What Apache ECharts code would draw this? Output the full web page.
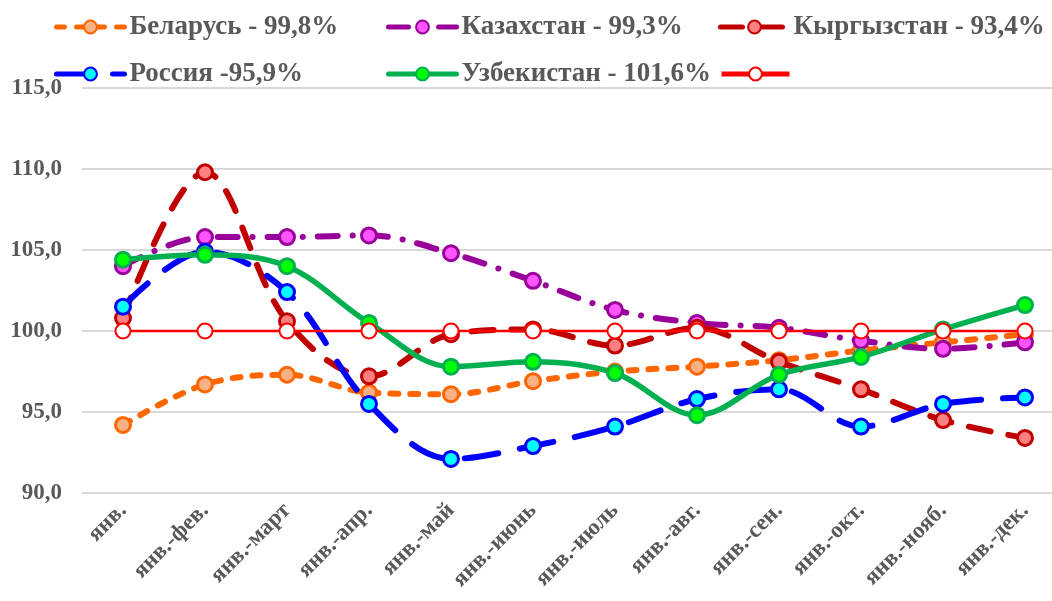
<!DOCTYPE html>
<html>
<head>
<meta charset="utf-8">
<script src="https://cdn.jsdelivr.net/npm/echarts@6/dist/echarts.min.js"></script>
<style>
html,body{margin:0;padding:0;background:#fff;}
#main{width:1052px;height:601px;}
</style>
</head>
<body>
<div id="main"></div>
<script>
var months = ['янв.', 'янв.-фев.', 'янв.-март', 'янв.-апр.', 'янв.-май', 'янв.-июнь', 'янв.-июль', 'янв.-авг.', 'янв.-сен.', 'янв.-окт.', 'янв.-нояб.', 'янв.-дек.'];
var belarus = [94.2, 96.7, 97.3, 96.2, 96.1, 96.9, 97.5, 97.8, 98.2, 98.8, 99.3, 99.8];
var kazakhstan = [104.0, 105.8, 105.8, 105.9, 104.8, 103.1, 101.3, 100.5, 100.2, 99.4, 98.9, 99.3];
var kyrgyzstan = [100.8, 109.8, 100.6, 97.2, 99.8, 100.1, 99.1, 100.2, 98.1, 96.4, 94.5, 93.4];
var russia = [101.5, 104.9, 102.4, 95.5, 92.1, 92.9, 94.1, 95.8, 96.4, 94.1, 95.5, 95.9];
var uzbekistan = [104.4, 104.7, 104.0, 100.5, 97.8, 98.1, 97.4, 94.8, 97.3, 98.4, 100.1, 101.6];
var base = [100, 100, 100, 100, 100, 100, 100, 100, 100, 100, 100, 100];
var names = ['Беларусь - 99,8%', 'Казахстан - 99,3%', 'Кыргызстан - 93,4%', 'Россия -95,9%', 'Узбекистан - 101,6%', ' '];

var chart = echarts.init(document.getElementById('main'));
var font = 'Liberation Serif';
var grey = '#595959';

function legendAt(name, left, top) {
    return {
        data: [name],
        left: left,
        top: top,
        padding: 0,
        itemWidth: 68,
        itemHeight: 16,
        lineStyle: { width: 5 },
        textStyle: { fontFamily: font, fontWeight: 'bold', fontSize: 27, color: grey, lineHeight: 30 }
    };
}

function line(name, data, color, fill, dash, width) {
    return {
        name: name,
        type: 'line',
        smooth: 0.35,
        data: data,
        symbol: 'circle',
        symbolSize: 15,
        lineStyle: { color: color, width: width, type: dash, cap: 'round' },
        itemStyle: { color: fill, borderColor: color, borderWidth: 3 }
    };
}

var option = {
    backgroundColor: '#ffffff',
    animation: false,
    legend: [
        legendAt(names[0], 54, 12),
        legendAt(names[1], 386, 12),
        legendAt(names[2], 718, 12),
        legendAt(names[3], 54, 59),
        legendAt(names[4], 386, 59),
        legendAt(names[5], 719, 59)
    ],
    grid: {
        left: 82,
        width: 984,
        top: 88,
        bottom: 108,
        outerBoundsMode: 'none'
    },
    xAxis: {
        type: 'category',
        data: months,
        axisLine: { show: false },
        axisTick: { show: false },
        axisLabel: {
            rotate: 45,
            interval: 0,
            margin: 14,
            fontFamily: font,
            fontWeight: 'bold',
            fontSize: 23,
            color: grey
        }
    },
    yAxis: {
        type: 'value',
        min: 90,
        max: 115,
        interval: 5,
        axisLine: { show: false },
        axisTick: { show: false },
        splitLine: { lineStyle: { color: '#d9d9d9', width: 2 } },
        axisLabel: {
            margin: 20,
            fontFamily: font,
            fontWeight: 'bold',
            fontSize: 23,
            color: grey,
            formatter: function (v) { return v.toFixed(1).replace('.', ','); }
        }
    },
    series: [
        line(names[0], belarus, '#ff6600', '#f8b184', [8, 12], 6),
        line(names[1], kazakhstan, '#990099', '#ff55ff', [20, 15, 0.1, 15], 6),
        line(names[2], kyrgyzstan, '#c00000', '#ff8080', [22, 18], 6),
        line(names[3], russia, '#0000ff', '#00ffff', [34, 22], 6),
        line(names[4], uzbekistan, '#00b050', '#00ff00', 'solid', 5.5),
        {
            name: names[5],
            type: 'line',
            data: base,
            symbol: 'circle',
            symbolSize: 15,
            lineStyle: { color: '#ff0000', width: 2.5 },
            itemStyle: { color: '#ffffff', borderColor: '#ff0000', borderWidth: 2 }
        }
    ]
};

chart.setOption(option);
</script>
</body>
</html>
